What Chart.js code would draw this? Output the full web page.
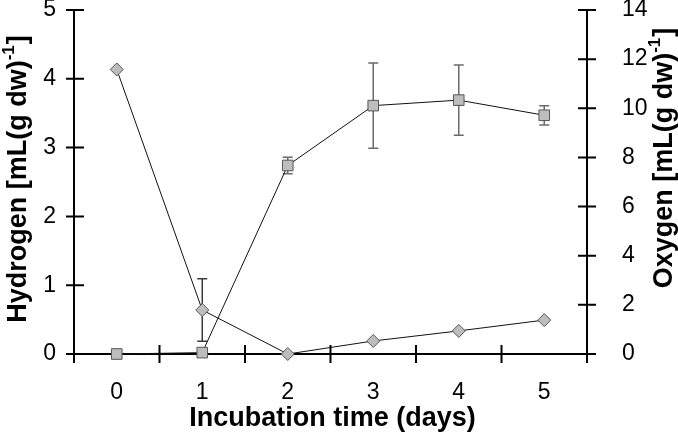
<!DOCTYPE html>
<html>
<head>
<meta charset="utf-8">
<script src="https://cdn.jsdelivr.net/npm/chart.js@4"></script>
<style>
  html, body { margin: 0; padding: 0; background: #fff; }
  #wrap { width: 678px; height: 436px; position: relative; }
</style>
</head>
<body>
<div id="wrap"><canvas id="chart" width="678" height="436"></canvas></div>
<script>
// Data
const days = ['0', '1', '2', '3', '4', '5'];
const hydrogen = [0, 0.02, 2.74, 3.61, 3.69, 3.47];      // left axis
const hydrogenErr = [0, 0, 0.12, 0.62, 0.51, 0.14];
const oxygen = [11.58, 1.79, 0, 0.53, 0.94, 1.38];       // right axis
const oxygenErr = [0, 1.27, 0, 0, 0, 0];
const leftTicks = [0, 1, 2, 3, 4, 5];
const rightTicks = [0, 2, 4, 6, 8, 10, 12, 14];

const FONT = 'Arial, "Liberation Sans", sans-serif';

// error bars, drawn under the markers
const errorBars = {
    id: 'errorBars',
    beforeDatasetsDraw(chart) {
        const ctx = chart.ctx;
        const x = chart.scales.x;
        const sets = [
            { vals: hydrogen, err: hydrogenErr, scale: chart.scales.yH, color: '#6b6b6b' },
            { vals: oxygen, err: oxygenErr, scale: chart.scales.yO, color: '#3a3a3a' }
        ];
        ctx.save();
        ctx.lineWidth = 1.5;
        sets.forEach(s => {
            ctx.strokeStyle = s.color;
            s.vals.forEach((v, i) => {
                if (!s.err[i]) return;
                const px = x.getPixelForValue(i);
                const top = s.scale.getPixelForValue(v + s.err[i]);
                const bot = s.scale.getPixelForValue(v - s.err[i]);
                ctx.beginPath();
                ctx.moveTo(px, top); ctx.lineTo(px, bot);
                ctx.moveTo(px - 5, top); ctx.lineTo(px + 5, top);
                ctx.moveTo(px - 5, bot); ctx.lineTo(px + 5, bot);
                ctx.stroke();
            });
        });
        ctx.restore();
    }
};

// tick marks that cross the axis lines, plus the axis titles
const axisDecor = {
    id: 'axisDecor',
    afterDraw(chart) {
        const ctx = chart.ctx;
        const x = chart.scales.x, yH = chart.scales.yH, yO = chart.scales.yO;
        const area = chart.chartArea;
        ctx.save();
        ctx.strokeStyle = '#000';
        ctx.lineWidth = 2;
        ctx.beginPath();
        leftTicks.forEach(v => {
            const py = yH.getPixelForValue(v);
            ctx.moveTo(area.left - 8, py); ctx.lineTo(area.left + 10, py);
        });
        rightTicks.forEach(v => {
            const py = yO.getPixelForValue(v);
            ctx.moveTo(area.right - 9, py); ctx.lineTo(area.right + 9, py);
        });
        const step = x.width / days.length;
        for (let i = 0; i <= days.length; i++) {
            const px = x.left + i * step;
            ctx.moveTo(px, area.bottom - 9); ctx.lineTo(px, area.bottom + 9);
        }
        ctx.stroke();

        ctx.fillStyle = '#000';
        ctx.font = 'bold 27px ' + FONT;
        ctx.textAlign = 'center';
        ctx.textBaseline = 'middle';
        ctx.fillText('Incubation time (days)', (area.left + area.right) / 2 + 2, 419);

        drawVTitle(ctx, 'Hydrogen [mL(g dw)', 19, 179);
        drawVTitle(ctx, 'Oxygen [mL(g dw)', 665, 158);
        ctx.restore();
    }
};

function drawVTitle(ctx, main, cx, cy) {
    const big = 'bold 27px ' + FONT;
    const small = 'bold 17px ' + FONT;
    ctx.save();
    ctx.translate(cx, cy);
    ctx.rotate(-Math.PI / 2);
    ctx.textAlign = 'left';
    ctx.textBaseline = 'middle';
    ctx.font = big;
    const w1 = ctx.measureText(main).width;
    const w3 = ctx.measureText(']').width;
    ctx.font = small;
    const w2 = ctx.measureText('-1').width + 1;
    let sx = -(w1 + w2 + w3) / 2;
    ctx.font = big;
    ctx.fillText(main, sx, 0);
    sx += w1;
    ctx.font = small;
    ctx.fillText('-1', sx, -10);
    sx += w2;
    ctx.font = big;
    ctx.fillText(']', sx, 0);
    ctx.restore();
}

function fitY(width) {
    return function(s) {
        s.width = width;
        s.paddingTop = 0;
        s.paddingBottom = 0;
    };
}

new Chart(document.getElementById('chart'), {
    type: 'line',
    data: {
        labels: days,
        datasets: [
            {
                label: 'Oxygen',
                data: oxygen,
                yAxisID: 'yO',
                borderColor: '#111',
                borderWidth: 1,
                pointStyle: 'rectRot',
                pointRadius: 6.5,
                pointBackgroundColor: '#bdbdbd',
                pointBorderColor: '#555',
                pointBorderWidth: 1,
                tension: 0,
                clip: false
            },
            {
                label: 'Hydrogen',
                data: hydrogen,
                yAxisID: 'yH',
                borderColor: '#111',
                borderWidth: 1,
                pointStyle: 'rect',
                pointRadius: 7.5,
                pointBackgroundColor: '#bdbdbd',
                pointBorderColor: '#555',
                pointBorderWidth: 1,
                tension: 0,
                clip: false
            }
        ]
    },
    options: {
        responsive: false,
        animation: false,
        devicePixelRatio: 1,
        layout: { padding: { top: 10, right: 0, left: 0, bottom: 0 } },
        plugins: { legend: { display: false }, tooltip: { enabled: false } },
        scales: {
            x: {
                type: 'category',
                offset: true,
                grid: { display: false, drawTicks: false },
                border: { display: true, color: '#000', width: 2 },
                ticks: { color: '#000', font: { family: FONT, size: 23 }, padding: 25, maxRotation: 0 },
                afterFit(s) { s.height = 82; s.paddingLeft = 0; s.paddingRight = 0; }
            },
            yH: {
                position: 'left',
                min: 0, max: 5,
                afterBuildTicks(s) { s.ticks = leftTicks.map(v => ({ value: v })); },
                grid: { display: false, drawTicks: false },
                border: { display: true, color: '#000', width: 2 },
                ticks: { color: '#000', font: { family: FONT, size: 23 }, padding: 18 },
                afterFit: fitY(74)
            },
            yO: {
                position: 'right',
                min: 0, max: 14,
                afterBuildTicks(s) { s.ticks = rightTicks.map(v => ({ value: v })); },
                grid: { display: false, drawTicks: false },
                border: { display: true, color: '#000', width: 2 },
                ticks: { color: '#000', font: { family: FONT, size: 23 }, padding: 35 },
                afterFit: fitY(91)
            }
        }
    },
    plugins: [errorBars, axisDecor]
});
</script>
</body>
</html>
